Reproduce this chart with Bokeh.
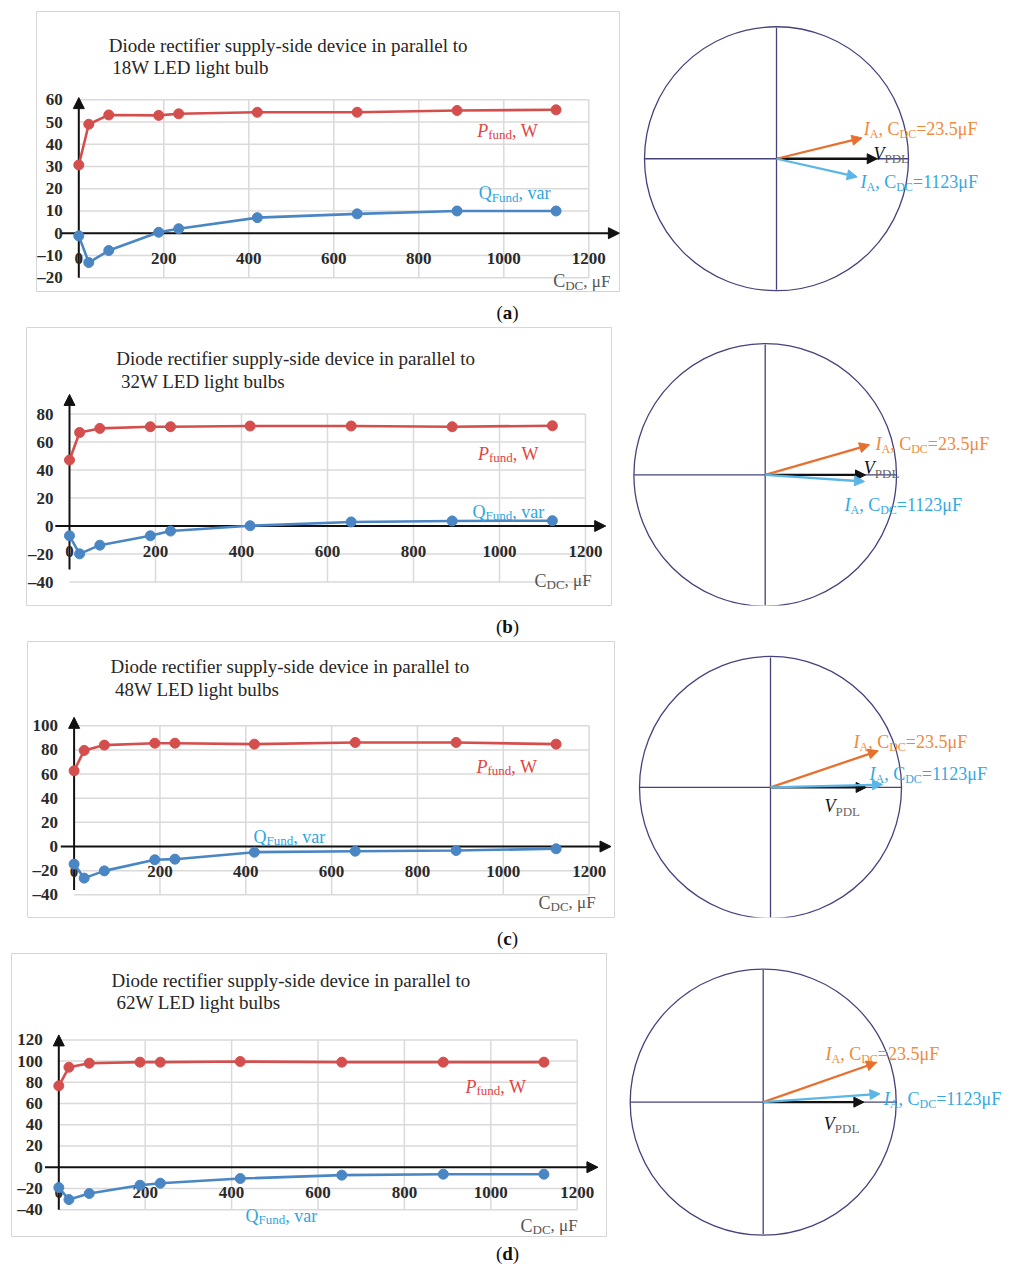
import math
from bokeh.plotting import figure
from bokeh.models import Range1d, Arrow, NormalHead, Spacer
from bokeh.layouts import column, row
from bokeh.core.properties import value
from bokeh.embed import file_html
from bokeh.resources import INLINE

FONT = "Liberation Serif"

# ---------------- data ----------------
cdc = [0, 23.5, 70.5, 188, 235, 420, 655, 890, 1123]

p_a = [30.7, 49.0, 53.2, 53.0, 53.7, 54.4, 54.4, 55.2, 55.5]
q_a = [-1.2, -13.2, -7.8, 0.4, 2.0, 7.0, 8.7, 10.0, 10.0]
p_b = [47.1, 66.8, 69.7, 70.9, 70.9, 71.4, 71.4, 70.9, 71.6]
q_b = [-7.0, -19.9, -13.7, -7.0, -3.6, 0.2, 2.9, 3.6, 3.8]
p_c = [62.7, 79.6, 84.0, 85.6, 85.6, 84.8, 86.2, 86.2, 84.8]
q_c = [-14.6, -26.2, -20.2, -11.0, -10.5, -4.7, -3.9, -3.3, -1.9]
p_d = [76.7, 94.2, 98.0, 99.0, 99.0, 99.6, 99.0, 99.0, 99.0]
q_d = [-19.2, -30.5, -24.8, -17.0, -15.1, -10.7, -7.5, -6.6, -6.6]

XTICKS = [0, 200, 400, 600, 800, 1000, 1200]
XLABELS = ["0", "200", "400", "600", "800", "1000", "1200"]
YTICKS_A = [-20, -10, 0, 10, 20, 30, 40, 50, 60]
YLABELS_A = ["–20", "–10", "0", "10", "20", "30", "40", "50", "60"]
YTICKS_B = [-40, -20, 0, 20, 40, 60, 80]
YLABELS_B = ["–40", "–20", "0", "20", "40", "60", "80"]
YTICKS_C = [-40, -20, 0, 20, 40, 60, 80, 100]
YLABELS_C = ["–40", "–20", "0", "20", "40", "60", "80", "100"]
YTICKS_D = [-40, -20, 0, 20, 40, 60, 80, 100, 120]
YLABELS_D = ["–40", "–20", "0", "20", "40", "60", "80", "100", "120"]

TITLE1 = "Diode rectifier supply-side device in parallel to"
TITLE2 = ["18W LED light bulb", "32W LED light bulbs", "48W LED light bulbs", "62W LED light bulbs"]
CAPTIONS = ["a", "b", "c", "d"]

# phasors (angle in degrees, magnitude relative to circle radius)
ia_small_ang = [13.8, 16.2, 18.9, 19.4]
ia_small_mag = [0.667, 0.828, 0.87, 0.904]
vpdl_ang = [0.0, 0.0, 0.0, 0.0]
vpdl_mag = [0.763, 0.764, 0.73, 0.757]
ia_large_ang = [-12.8, -3.8, 1.5, 4.1]
ia_large_mag = [0.627, 0.758, 0.855, 0.88]

# ---------------- styles ----------------
RED_LINE = "#D54E4E"
RED_TXT = "#E2443F"
BLUE_LINE = "#4A86C4"
BLUE_TXT = "#2FA6E0"
GRID = "#DADADA"
AXIS = "#111111"
TICK_TXT = "#2A2A2A"
GRAY_TXT = "#555555"
NAVY = "#45427C"
ORANGE = "#E8702E"
ORANGE_TXT = "#F08A3C"
CYAN = "#5AB6E6"
CYAN_TXT = "#33A9E3"

PAGE_W = 1005

# layout geometry in page pixels
panels = [
    dict(box=(35, 10, 620, 292), x0=78.3, kx=0.425, y0=232.7, ky=2.223, yarrow=(-20, 61), xarrow=(-41, 1272),
         t1=(108.3, 45), t2=(111.7, 67.3), plab=(476.7, 130), qlab=(478.3, 192.7), clab=(552.7, 280.7),
         circ=(776, 158.3, 132), olab=(863.3, 128.3), vlab=(873, 153.3), blab=(860, 181.7), cap=312, next_top=326),
    dict(box=(25, 326, 612, 606), x0=69.0, kx=0.43, y0=525.5, ky=1.40, yarrow=(-31, 94), xarrow=(-33, 1247),
         t1=(115.8, 357.7), t2=(120.4, 380.6), plab=(477.5, 453), qlab=(472, 511), clab=(534, 580),
         circ=(764.7, 474.5, 131.3), olab=(875, 443.3), vlab=(863.3, 467.7), blab=(844, 505), cap=626, next_top=640),
    dict(box=(26, 640, 615, 918), x0=73.6, kx=0.4292, y0=846.0, ky=1.207, yarrow=(-36, 107), xarrow=(-31, 1251),
         t1=(110, 666.3), t2=(114.6, 688.8), plab=(476, 766), qlab=(253, 836), clab=(538, 902),
         circ=(770, 787, 131), olab=(853, 741), vlab=(824, 806), blab=(869, 773), cap=938, next_top=952),
    dict(box=(10, 952, 607, 1237), x0=58.3, kx=0.432, y0=1166.7, ky=1.061, yarrow=(-40, 124.7), xarrow=(-32, 1248),
         t1=(111, 979.6), t2=(115.9, 1002), plab=(465, 1086), qlab=(245, 1215), clab=(520, 1225),
         circ=(762.7, 1101.7, 133), olab=(825, 1053.3), vlab=(823.3, 1123.3), blab=(883.3, 1098.3), cap=1253, next_top=1268),
]
series = [(p_a, q_a, YTICKS_A, YLABELS_A), (p_b, q_b, YTICKS_B, YLABELS_B),
          (p_c, q_c, YTICKS_C, YLABELS_C), (p_d, q_d, YTICKS_D, YLABELS_D)]

W_REG = {' ': 250, ',': 250, '.': 250, '=': 564, '(': 333, ')': 333, 'A': 722, 'C': 667, 'D': 722,
         'F': 556, 'I': 333, 'L': 611, 'P': 556, 'Q': 722, 'V': 722, 'W': 944, 'a': 444, 'd': 500,
         'f': 333, 'n': 500, 'r': 333, 'u': 500, 'v': 500, 'μ': 576}
W_IT = {'P': 611, 'Q': 722, 'I': 333, 'V': 611}
W_BOLD = {'a': 500, 'b': 556, 'c': 444, 'd': 556, '(': 333, ')': 333}


def tw(s, size, style):
    tab = W_IT if style == "italic" else (W_BOLD if style == "bold" else W_REG)
    return sum(tab.get(ch, W_REG.get(ch, 500)) for ch in s) * size / 1000.0


def rich(p, x, y, pieces, baseline="alphabetic"):
    off = 0.0
    for txt, size, style, dy, color in pieces:
        p.text(x=[x], y=[y], text=[txt], x_offset=off, y_offset=dy, text_font=value(FONT),
               text_font_size=f"{size}px", text_font_style=style, text_color=color,
               text_align="left", text_baseline=baseline)
        off += tw(txt, size, style)


def bare(width, height, xr, yr):
    p = figure(width=width, height=height, x_range=xr, y_range=yr,
               x_axis_location=None, y_axis_location=None, toolbar_location=None,
               output_backend="svg", min_border=0, outline_line_color=None,
               background_fill_color="white", border_fill_color="white")
    for gr in p.grid:
        gr.visible = False
    return p


def make_chart(g, P, Q, yticks, ylabels, t2):
    bl, bt, br, bb = g["box"]
    W, H = br - bl, bb - bt
    x0, kx, y0, ky = g["x0"], g["kx"], g["y0"], g["ky"]
    fx = lambda px: (px - x0) / kx
    fy = lambda py: (y0 - py) / ky
    p = bare(W, H, Range1d(fx(bl + 1), fx(br - 1)), Range1d(fy(bb - 1), fy(bt + 1)))
    p.min_border = 1
    p.outline_line_color = "#D6D6D6"
    p.outline_line_width = 1
    ymin, ymax = yticks[0], yticks[-1]
    vx = [t for t in XTICKS if t > 0]
    p.segment(x0=vx, y0=[ymin] * len(vx), x1=vx, y1=[ymax] * len(vx),
              line_color=GRID, line_width=1.5, level="image")
    hy = [t for t in yticks if t != 0]
    p.segment(x0=[XTICKS[0]] * len(hy), y0=hy, x1=[XTICKS[-1]] * len(hy), y1=hy,
              line_color=GRID, line_width=1.5, level="image")
    # axes with arrows
    p.add_layout(Arrow(end=NormalHead(size=11, fill_color=AXIS, line_color=AXIS),
                       x_start=g["xarrow"][0], y_start=0, x_end=g["xarrow"][1], y_end=0,
                       line_color=AXIS, line_width=2, level="underlay"))
    p.add_layout(Arrow(end=NormalHead(size=11, fill_color=AXIS, line_color=AXIS),
                       x_start=0, y_start=g["yarrow"][0], x_end=0, y_end=g["yarrow"][1],
                       line_color=AXIS, line_width=2, level="underlay"))
    # tick labels
    p.text(x=[0] * len(yticks), y=yticks, text=ylabels, x_offset=-16, text_align="right",
           text_baseline="middle", text_font=value(FONT), text_font_size="17px",
           text_font_style="bold", text_color=TICK_TXT)
    p.text(x=XTICKS, y=[0] * len(XTICKS), text=XLABELS, y_offset=25, text_align="center",
           text_baseline="middle", text_font=value(FONT), text_font_size="17px",
           text_font_style="bold", text_color=TICK_TXT)
    # series
    p.line(cdc, P, line_color=RED_LINE, line_width=2.6)
    p.scatter(cdc, P, size=10, fill_color=RED_LINE, line_color=RED_LINE)
    p.line(cdc, Q, line_color=BLUE_LINE, line_width=2.6)
    p.scatter(cdc, Q, size=10, fill_color=BLUE_LINE, line_color=BLUE_LINE)
    # titles
    for (tx, ty), txt in ((g["t1"], TITLE1), (g["t2"], t2)):
        p.text(x=[fx(tx)], y=[fy(ty)], text=[txt], text_font=value(FONT), text_font_size="19px",
               text_color="#262626", text_align="left", text_baseline="alphabetic")
    px_, py_ = g["plab"]
    rich(p, fx(px_), fy(py_), [("P", 18, "italic", 0, RED_TXT), ("fund", 13, "normal", 4, RED_TXT),
                               (", W", 18, "normal", 0, RED_TXT)])
    qx_, qy_ = g["qlab"]
    rich(p, fx(qx_), fy(qy_), [("Q", 18, "normal", 0, BLUE_TXT), ("Fund", 13, "normal", 4, BLUE_TXT),
                               (", var", 18, "normal", 0, BLUE_TXT)])
    cx_, cy_ = g["clab"]
    rich(p, fx(cx_), fy(cy_), [("C", 18, "normal", 0, GRAY_TXT), ("DC", 13, "normal", 4, GRAY_TXT),
                               (", μF", 17, "normal", 0, GRAY_TXT)])
    return p


def make_phasor(g, k):
    bl, bt, br, bb = g["box"]
    fl, ft = br, bt
    fw, fh = PAGE_W - br, bb - bt
    cx, cy, r = g["circ"]
    p = bare(fw, fh, Range1d((fl - cx) / r, (fl + fw - cx) / r), Range1d((cy - (ft + fh)) / r, (cy - ft) / r))
    p.circle(x=[0], y=[0], radius=1, fill_color=None, line_color=NAVY, line_width=1.3)
    p.segment(x0=[-1, 0], y0=[0, -1], x1=[1, 0], y1=[0, 1], line_color=NAVY, line_width=1.3)
    vecs = [(vpdl_ang[k], vpdl_mag[k], "#111111"), (ia_small_ang[k], ia_small_mag[k], ORANGE),
            (ia_large_ang[k], ia_large_mag[k], CYAN)]
    for ang, mag, col in vecs:
        a = math.radians(ang)
        p.add_layout(Arrow(end=NormalHead(size=10, fill_color=col, line_color=col),
                           x_start=0, y_start=0, x_end=mag * math.cos(a), y_end=mag * math.sin(a),
                           line_color=col, line_width=2.3))
    tx = lambda px: (px - cx) / r
    ty = lambda py: (cy - py) / r
    ox, oy = g["olab"]
    rich(p, tx(ox), ty(oy), [("I", 18, "italic", 0, ORANGE_TXT), ("A", 12, "normal", 5, ORANGE_TXT),
                             (", C", 18, "normal", 0, ORANGE_TXT), ("DC", 12, "normal", 5, ORANGE_TXT),
                             ("=23.5μF", 18, "normal", 0, ORANGE_TXT)])
    bx, by = g["blab"]
    rich(p, tx(bx), ty(by), [("I", 18, "italic", 0, CYAN_TXT), ("A", 12, "normal", 5, CYAN_TXT),
                             (", C", 18, "normal", 0, CYAN_TXT), ("DC", 12, "normal", 5, CYAN_TXT),
                             ("=1123μF", 18, "normal", 0, CYAN_TXT)])
    vx, vy = g["vlab"]
    rich(p, tx(vx), ty(vy), [("V", 18, "italic", 0, "#111111"), ("PDL", 13, "normal", 5, "#666666")])
    return p


def make_caption(letter, top, bottom, cyc):
    p = bare(PAGE_W, bottom - top, Range1d(0, PAGE_W), Range1d(bottom, top))
    pieces = [("(", 19, "normal", 0, "#111111"), (letter, 19, "bold", 0, "#111111"),
              (")", 19, "normal", 0, "#111111")]
    w = sum(tw(t, s, st) for t, s, st, _, _ in pieces)
    rich(p, 507 - w / 2, cyc, pieces, baseline="middle")
    return p


items = [Spacer(width=PAGE_W, height=panels[0]["box"][1])]
for k, g in enumerate(panels):
    P, Q, yt, yl = series[k]
    bl, bt, br, bb = g["box"]
    chart = make_chart(g, P, Q, yt, yl, TITLE2[k])
    ph = make_phasor(g, k)
    items.append(row(Spacer(width=bl, height=bb - bt), chart, ph))
    items.append(make_caption(CAPTIONS[k], bb, g["next_top"], g["cap"]))

layout = column(*items)
open("out.html", "w").write(file_html(layout, INLINE))
